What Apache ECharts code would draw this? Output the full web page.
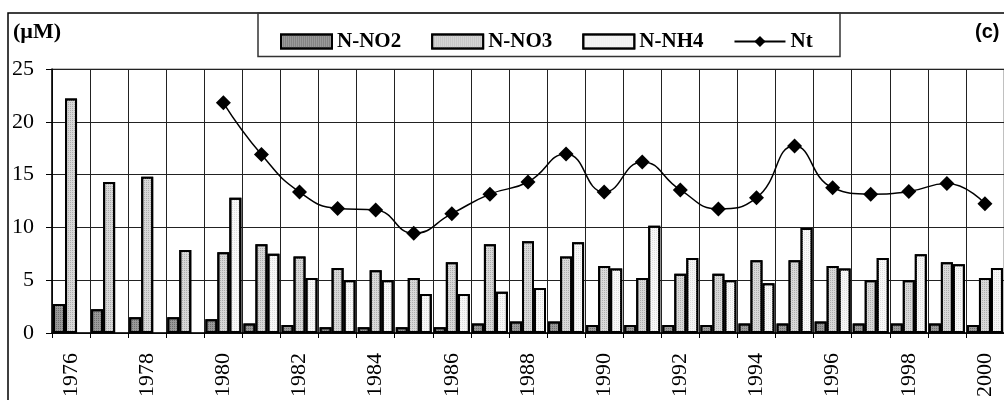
<!DOCTYPE html>
<html lang="en">
<head>
    <meta charset="UTF-8">
    <title>Nitrogen</title>
    <script src="https://cdn.jsdelivr.net/npm/echarts@6/dist/echarts.min.js"></script>
</head>
<style>
    *{
        margin: 0;
        padding: 0;
    }
    html , body{
        width: 100%;
        height: 100%;
        overflow: hidden;
        background: #fff;
    }
    .container{
        width: 1004px;
        height: 400px;
    }
</style>
<body>
<div class="container"></div>
<script>
    // years on the x axis
    let years=['1976','1977','1978','1979','1980','1981','1982','1983','1984','1985','1986','1987','1988',
        '1989','1990','1991','1992','1993','1994','1995','1996','1997','1998','1999','2000'];
    let yTicks=[0,5,10,15,20,25];
    // concentrations (µM)
    let no2=[2.75,2.25,1.5,1.5,1.3,0.9,0.75,0.55,0.55,0.55,0.55,0.9,1.1,1.1,0.75,0.75,0.75,0.75,0.9,0.9,1.1,0.9,0.9,0.9,0.75];
    let no3=[22.2,14.3,14.8,7.85,7.65,8.4,7.25,6.15,5.95,5.2,6.7,8.4,8.7,7.25,6.35,5.2,5.6,5.6,6.9,6.9,6.35,5.0,5.0,6.7,5.2];
    let nh4=[null,null,null,null,12.8,7.5,5.2,5.0,5.0,3.7,3.7,3.9,4.25,8.6,6.1,10.15,7.1,5.0,4.7,9.95,6.1,7.1,7.45,6.5,6.15];
    let nt=[null,null,null,null,21.8,16.9,13.35,11.8,11.65,9.45,11.3,13.15,14.3,16.95,13.35,16.2,13.55,11.75,12.8,17.7,13.75,13.15,13.4,14.15,12.25];

    let serif='"Liberation Serif","Times New Roman",serif';
    let container=document.querySelector('.container');
    let mycharts=echarts.init(container);

    // fine stipple like the old excel fill patterns
    function barSeries(name,data,color,dot){
        return {
            name:name,
            type:'bar',
            data:data,
            barWidth:12,
            barGap:'0%',
            itemStyle:{
                color:color,
                borderColor:'#000',
                borderWidth:2,
                decal:{
                    symbol:'rect',
                    symbolSize:1,
                    color:dot,
                    dashArrayX:[1,1],
                    dashArrayY:[1,1],
                    rotation:0
                }
            }
        }
    }

    let option={
        animation:false,
        backgroundColor:'#fff',
        grid:{
            left:52,
            top:69,
            width:959,
            height:266,
            show:true,
            borderColor:'#808080',
            borderWidth:1
        },
        legend:{
            left:275,
            top:26,
            itemWidth:51,
            itemHeight:14,
            itemGap:30,
            textStyle:{
                fontFamily:serif,
                fontWeight:'bold',
                fontSize:21,
                color:'#000'
            },
            data:[
                {name:'N-NO2',icon:'rect'},
                {name:'N-NO3',icon:'rect'},
                {name:'N-NH4',icon:'rect'},
                {name:'Nt'}
            ]
        },
        graphic:[
            {
                type:'rect',
                shape:{x:8,y:13,width:1100,height:500},
                style:{fill:'none',stroke:'#000',lineWidth:1.5},
                silent:true
            },
            {
                type:'rect',
                shape:{x:258,y:13,width:582,height:43.5},
                style:{fill:'none',stroke:'#333',lineWidth:1.5},
                silent:true
            },
            {
                type:'text',
                left:13,
                top:21,
                style:{text:'(µM)',font:'bold 22px '+serif,fill:'#000'}
            },
            {
                type:'text',
                left:975,
                top:22,
                style:{text:'(c)',font:'bold 20px "Liberation Sans",Arial,sans-serif',fill:'#000'}
            }
        ],
        xAxis:{
            type:'category',
            data:years,
            boundaryGap:true,
            axisLine:{lineStyle:{color:'#000',width:1.5}},
            axisTick:{show:true,interval:0,length:5,lineStyle:{color:'#000',width:1}},
            axisLabel:{
                interval:1,
                rotate:90,
                margin:20,
                fontFamily:serif,
                fontSize:22,
                color:'#000'
            },
            splitLine:{show:true,interval:0,lineStyle:{color:'#222',width:1}}
        },
        yAxis:{
            type:'value',
            min:yTicks[0],
            max:yTicks[yTicks.length-1],
            interval:5,
            axisLine:{show:true,lineStyle:{color:'#000',width:1.5}},
            axisTick:{show:true,length:6,lineStyle:{color:'#000'}},
            axisLabel:{
                margin:18,
                fontFamily:serif,
                fontSize:22,
                color:'#000'
            },
            splitLine:{lineStyle:{color:'#222',width:1}}
        },
        series:[
            barSeries('N-NO2',no2,'#9a9a9a','#6e6e6e'),
            barSeries('N-NO3',no3,'#d8d8d8','#adadad'),
            barSeries('N-NH4',nh4,'#f8f8f8','#dedede'),
            {
                name:'Nt',
                type:'line',
                data:nt,
                smooth:0.5,
                symbol:'diamond',
                symbolSize:15,
                lineStyle:{color:'#000',width:1.5},
                itemStyle:{color:'#000'},
                z:5
            }
        ]
    };
    mycharts.setOption(option);
</script>

</body>
</html>
